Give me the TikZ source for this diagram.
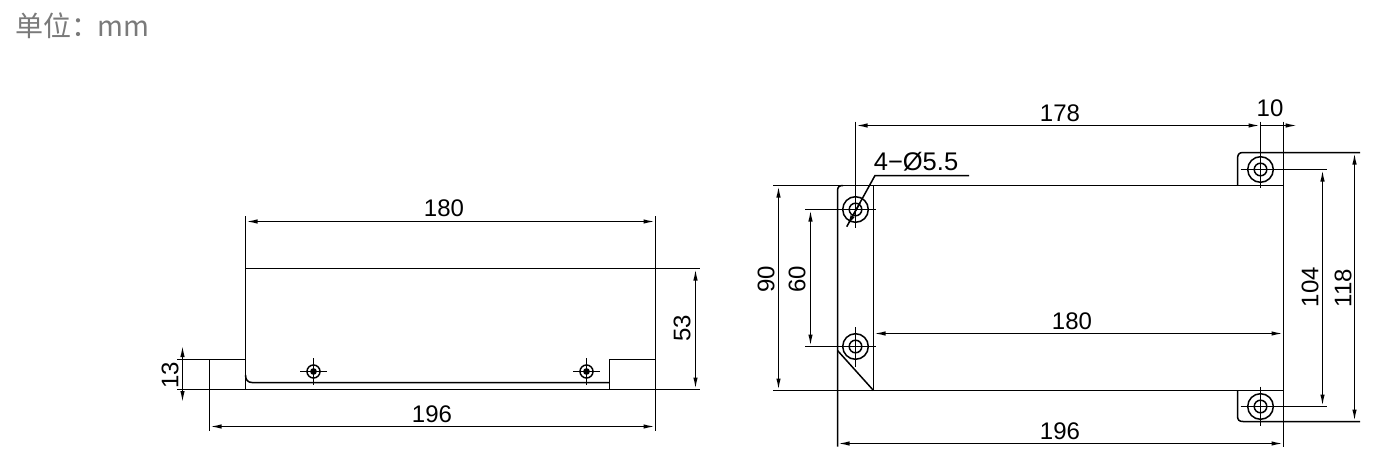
\documentclass[tikz,border=0pt]{standalone}
\usepackage{fontspec}
\setmainfont{Liberation Sans}
\newfontfamily\cjkfont{Noto Sans CJK SC}
\usetikzlibrary{arrows.meta}

\tikzset{
    part/.style={line width=1.5pt, black},
    thinline/.style={line width=1.5pt, black},
    dimline/.style={line width=1.5pt, black, {Latex[length=12pt,width=4.4pt]}-{Latex[length=12pt,width=4.4pt]}},
    dimend/.style={line width=1.5pt, black, -{Latex[length=12pt,width=4.4pt]}},
    dimtext/.style={font=\fontsize{24}{24}\selectfont, inner sep=0pt, text=black},
    screw/.style={line width=1.5pt, black}
}

\begin{document}
\begin{tikzpicture}[x=1pt, y=-1pt]
    \useasboundingbox (0,0) rectangle (1383,476);

    % Unit
    \node [anchor=west, inner sep=0pt, text=black!52] (unit) at (15,26)
        {\fontsize{28}{28}\selectfont\cjkfont 单位：\hspace{-2pt}mm};

    % Side view
    \draw [part] (245.5,216) -- (245.5,389.5);
    \draw [part] (655.5,216) -- (655.5,431);
    \draw [thinline] (245.5,268.5) -- (700,268.5);
    \draw [part] (177,389.5) -- (700,389.5);
    \draw [part] (177,359.5) -- (245.5,359.5);
    \draw [part] (209.5,359.5) -- (209.5,431);
    \draw [part] (245.5,375) .. controls (245.5,380) and (248,382.5) .. (252,382.5) -- (609.5,382.5);
    \draw [part] (609.5,389.5) -- (609.5,359.5) -- (655.5,359.5);

    % Side view screws
    \foreach \x in {313.5, 586.5} {
        \draw [screw] (\x,371.5) circle (6.5);
        \fill (\x,371.5) circle (3.4);
        \draw [screw] (\x-13.5,371.5) -- (\x+13.5,371.5);
        \draw [screw] (\x,358) -- (\x,385);
    }

    % Side view dimensions
    \draw [dimline] (245.5,221.5) -- (655.5,221.5);
    \node [dimtext] (width_top) at (444,208.5) {180};
    \draw [dimline] (209.5,426.5) -- (655.5,426.5);
    \node [dimtext] (width_base) at (432,414.5) {196};
    \draw [dimline] (695.5,268.5) -- (695.5,389.5);
    \node [dimtext, rotate=90] (height_body) at (682,328) {53};
    \draw [dimline] (182.5,345) -- (182.5,403);
    \node [dimtext, rotate=90] (height_base) at (170,375) {13};

    % Top view outline
    \draw [part] (773,185.5) -- (1283.5,185.5);
    \draw [part] (773,390.5) -- (1283.5,390.5);
    \draw [part] (837.5,446.7) -- (837.5,191) .. controls (837.5,187) and (839,185.5) .. (843,185.5);
    \draw [part] (873.5,185.5) -- (873.5,390.5);
    \draw [part] (837.5,350.5) -- (873.5,390.5);
    \draw [part] (1283.5,121.7) -- (1283.5,447);

    % Top view tabs
    \draw [part] (1237.5,185.5) -- (1237.5,159) .. controls (1237.5,154.5) and (1239,152.5) .. (1243,152.5) -- (1360,152.5);
    \draw [part] (1237.5,390.5) -- (1237.5,415.5) .. controls (1237.5,420) and (1239,421.5) .. (1243,421.5) -- (1360,421.5);

    % Top view holes
    \foreach \x/\y/\a/\b in {855.5/209.5/121.7/228, 855.5/346.5/327/367, 1260.5/169.5/121.7/188, 1260.5/406.5/386.7/425.7} {
        \draw [screw] (\x,\y) circle (12.8);
        \draw [screw] (\x,\y) circle (6.3);
        \draw [screw] (\x,\a) -- (\x,\b);
    }
    \foreach \y in {209.5, 346.5}
        \draw [thinline] (805,\y) -- (875.7,\y);
    \foreach \y in {169.5, 406.5}
        \draw [thinline] (1240.7,\y) -- (1327,\y);

    % Top view dimensions
    \draw [dimline] (855.5,125.5) -- (1260.5,125.5);
    \draw [dimend] (1260.5,125.5) -- (1297.7,125.5);
    \node [dimtext] (pitch) at (1060,113.5) {178};
    \node [dimtext] (offset) at (1270,108.5) {10};
    \draw [dimline] (778.5,185.5) -- (778.5,390.5);
    \node [dimtext, rotate=90] (depth) at (766,279) {90};
    \draw [dimline] (810.5,209.5) -- (810.5,346.5);
    \node [dimtext, rotate=90] (hole_gap) at (797,279) {60};
    \draw [dimline] (873.5,333.5) -- (1283.5,333.5);
    \node [dimtext] (width_body) at (1072,321.5) {180};
    \draw [dimline] (837.5,443.5) -- (1283.5,443.5);
    \node [dimtext] (width_all) at (1060,431.5) {196};
    \draw [dimline] (1322.5,169.5) -- (1322.5,406.5);
    \node [dimtext, rotate=90] (tab_gap) at (1310,287) {104};
    \draw [dimline] (1354.5,152.5) -- (1354.5,421.5);
    \node [dimtext, rotate=90] (tab_all) at (1343,288) {118};

    % Hole callout
    \node [dimtext, font=\fontsize{25.5}{25.5}\selectfont] (callout) at (916,162) {4−Ø5.5};
    \draw [thinline] (969,175.5) -- (875,175.5) -- (846.7,226.7);
    \draw [dimend] (860,203) -- (846.7,226.7);
\end{tikzpicture}
\end{document}
